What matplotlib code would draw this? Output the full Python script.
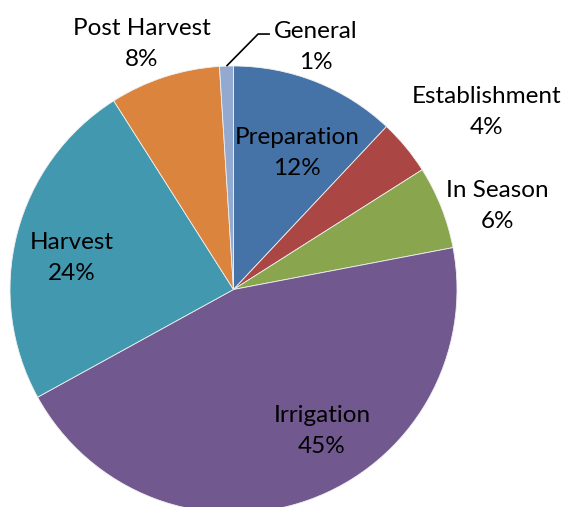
import matplotlib
matplotlib.use("Agg")
import matplotlib.pyplot as plt
import numpy as np

categories = ["Preparation", "Establishment", "In Season", "Irrigation", "Harvest", "Post Harvest", "General"]
values = [12, 4, 6, 45, 24, 8, 1]
colors = ["#4572A7", "#AA4643", "#89A54E", "#71588F", "#4198AF", "#DB843D", "#93A9CF"]

# label layout (data units, pie radius = 1)
label_pos = [(0.284, 0.611), (1.134, 0.794), (1.179, 0.374), (0.396, -0.633),
             (-0.723, 0.141), (-0.409, 1.098), (0.369, 1.085)]

plt.rcParams['font.family'] = ['Lato', 'DejaVu Sans']

fig = plt.figure(figsize=(5.63, 5.07), dpi=100)
ax = fig.add_axes([0, 0, 1, 1])
wedges, _ = ax.pie(values, colors=colors, startangle=90, counterclock=False,
                   wedgeprops=dict(edgecolor="#f0f0f0", linewidth=0.6))

total = sum(values)
for name, v, (x, y) in zip(categories, values, label_pos):
    ax.text(x, y, f"{name}\n{round(100 * v / total)}%", ha="center", va="center",
            fontsize=17.5, linespacing=1.6, color="black")

# leader line for General
w = wedges[-1]
mid = np.deg2rad((w.theta1 + w.theta2) / 2)
sx, sy = np.cos(mid), np.sin(mid)
ax.plot([sx, 0.110, 0.163], [sy, 1.143, 1.143], color="black", lw=1.2, solid_capstyle="butt")

R = 223.5
ax.set_xlim(-233.5 / R, (563 - 233.5) / R)
ax.set_ylim(-(507 - 289.5) / R, 289.5 / R)
ax.set_aspect('auto')
ax.axis('off')
fig.savefig("out.png", dpi=100)
